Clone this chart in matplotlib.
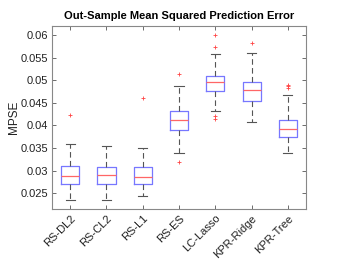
import matplotlib
matplotlib.use("Agg")
import matplotlib.pyplot as plt

plt.rcParams['font.family'] = ['Liberation Sans', 'DejaVu Sans']

methods = ["RS-DL2", "RS-CL2", "RS-L1", "RS-ES", "LC-Lasso", "KPR-Ridge", "KPR-Tree"]
whislo = [0.0234, 0.0234, 0.0243, 0.0339, 0.0432, 0.0407, 0.0339]
q1 = [0.0270, 0.0270, 0.0270, 0.0390, 0.0476, 0.0454, 0.0375]
med = [0.0288, 0.0291, 0.0285, 0.0413, 0.0495, 0.0478, 0.0393]
q3 = [0.0311, 0.0308, 0.0307, 0.0432, 0.0510, 0.0497, 0.0412]
whishi = [0.0359, 0.0355, 0.0351, 0.0488, 0.0557, 0.0561, 0.0468]
fliers = [[0.0424], [], [0.0460], [0.0513, 0.0320],
          [0.0600, 0.0573, 0.0421, 0.0415], [0.0582],
          [0.0490, 0.0487, 0.0483]]

stats = []
for i, m in enumerate(methods):
    stats.append(dict(label=m, whislo=whislo[i], q1=q1[i], med=med[i],
                      q3=q3[i], whishi=whishi[i], fliers=fliers[i]))

fig = plt.figure(figsize=(3.46, 2.68), dpi=100)
ax = fig.add_axes([52/346, 1-209/268, 254/346, 183/268])

ax.bxp(stats, positions=range(1, 8), widths=0.5, showfliers=True,
       boxprops=dict(color='#7777ff', linewidth=0.9),
       medianprops=dict(color='#ff6666', linewidth=0.9),
       whiskerprops=dict(color='#555555', linewidth=0.8, linestyle=(0, (5, 3))),
       capprops=dict(color='#555555', linewidth=0.8),
       flierprops=dict(marker='+', markeredgecolor='#ff4444', markersize=3, markeredgewidth=0.6,
                       linestyle='none'),
       capwidths=0.25)

ax.set_xlim(0.5, 7.5)
ax.set_ylim(0.0215, 0.062)
ax.set_yticks([0.025, 0.03, 0.035, 0.04, 0.045, 0.05, 0.055, 0.06])
ax.set_yticklabels(["0.025", "0.03", "0.035", "0.04", "0.045", "0.05", "0.055", "0.06"])
ax.set_xticks(range(1, 8))
ax.set_xticklabels(methods, rotation=45, ha='right', rotation_mode='anchor')
ax.tick_params(direction='in', length=3, width=0.6, color='#555555', labelsize=8,
               labelcolor='#222222', top=True, right=True, pad=3)
for s in ax.spines.values():
    s.set_color('#888888')
    s.set_linewidth(0.8)
ax.set_ylabel("MPSE", fontsize=8.5, labelpad=0, color='#222222')
ax.set_title("Out-Sample Mean Squared Prediction Error", fontsize=8, fontweight='bold', pad=5)

fig.savefig("out.png", dpi=100)
